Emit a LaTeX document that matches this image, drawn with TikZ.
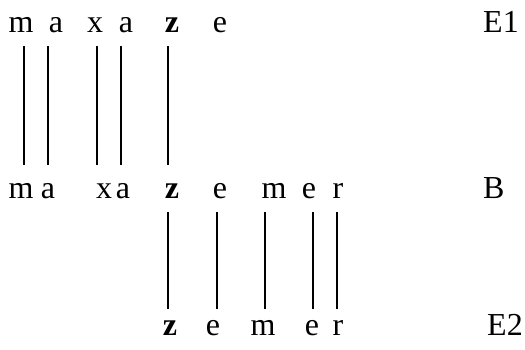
\documentclass[tikz,border=0pt]{standalone}
\usepackage{fontspec}
\setmainfont{Liberation Serif}
\tikzset{
  lett/.style={anchor=base, inner sep=0pt, font=\fontsize{32}{38}\selectfont},
  rlab/.style={anchor=base west, inner sep=0pt, font=\fontsize{32}{38}\selectfont},
  bar/.style={line width=1.2pt}
}
\begin{document}
\begin{tikzpicture}[x=1pt, y=-1pt]
  \useasboundingbox (0,0) rectangle (525,350);

  % --- riga E1 ---
  \node[lett] (e1m) at (21,33) {m};
  \node[lett] (e1a) at (56,33) {a};
  \node[lett] (e1x) at (95,33) {x};
  \node[lett] (e1b) at (126,33) {a};
  \node[lett] (e1z) at (172,33) {\textbf{z}};
  \node[lett] (e1e) at (220,33) {e};
  \node[rlab] (E1) at (483,33) {E1};

  % --- riga B ---
  \node[lett] (bm) at (21,198) {m};
  \node[lett] (ba) at (48,198) {a};
  \node[lett] (bx) at (104,198) {x};
  \node[lett] (bb) at (123,198) {a};
  \node[lett] (bz) at (172,198) {\textbf{z}};
  \node[lett] (be) at (220,198) {e};
  \node[lett] (bn) at (274,198) {m};
  \node[lett] (bf) at (309,198) {e};
  \node[lett] (br) at (338,198) {r};
  \node[rlab] (B) at (483,198) {B};

  % --- riga E2 ---
  \node[lett] (e2z) at (170,335) {\textbf{z}};
  \node[lett] (e2e) at (213,335) {e};
  \node[lett] (e2m) at (263,335) {m};
  \node[lett] (e2f) at (312,335) {e};
  \node[lett] (e2r) at (338,335) {r};
  \node[rlab] (E2) at (487,335) {E2};

  % --- barre E1 - B ---
  \foreach \x/\n in {24/1, 48/2, 97/3, 121/4, 168/5} {
    \coordinate (ua\n) at (\x,46);
    \coordinate (ub\n) at (\x,165);
    \draw[bar] (ua\n) -- (ub\n);
  }

  % --- barre B - E2 ---
  \foreach \x/\n in {168/1, 217/2, 265/3, 313/4, 337/5} {
    \coordinate (da\n) at (\x,212);
    \coordinate (db\n) at (\x,309);
    \draw[bar] (da\n) -- (db\n);
  }

\end{tikzpicture}
\end{document}
